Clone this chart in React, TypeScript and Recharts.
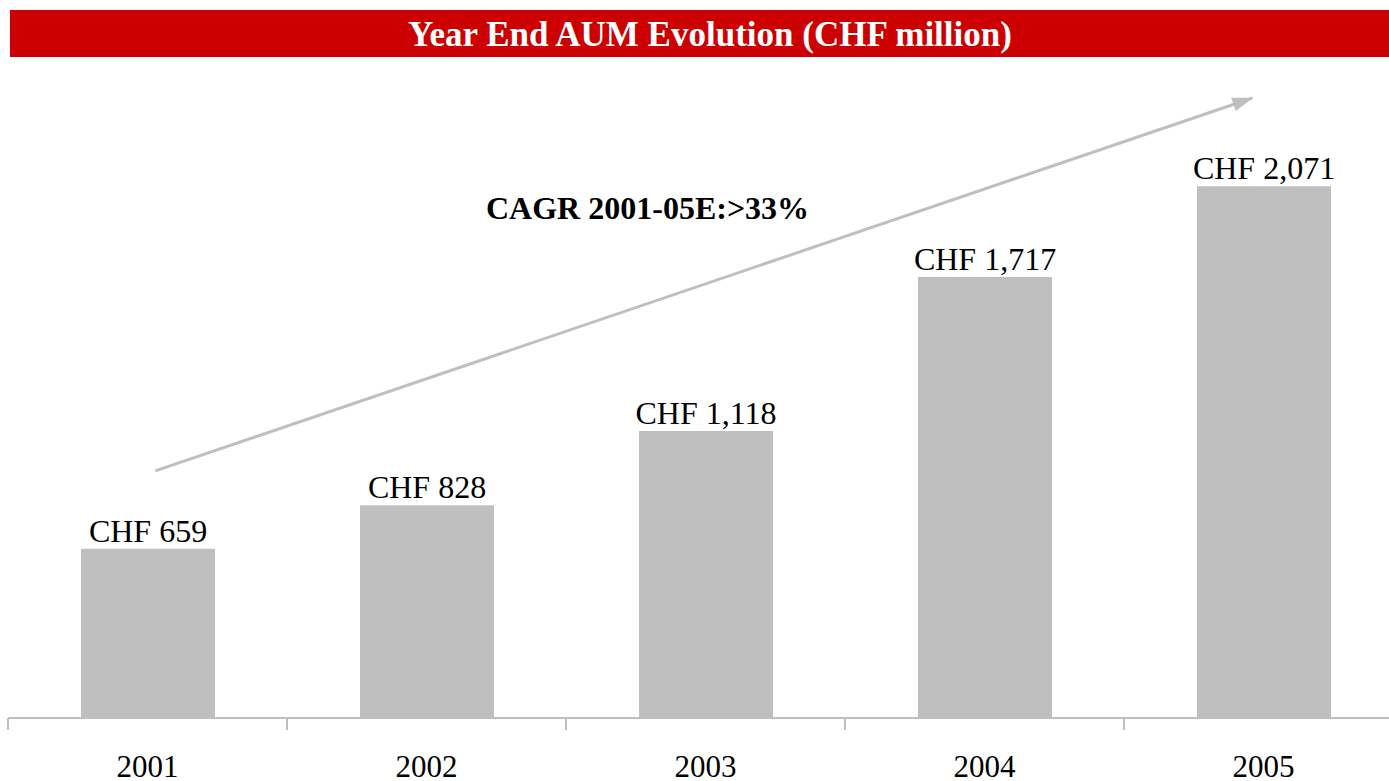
import React from 'react';
import { BarChart, Bar, XAxis, YAxis, LabelList, ReferenceLine } from 'recharts';

const YEARS = ['2001', '2002', '2003', '2004', '2005'];
const AUM = [659, 828, 1118, 1717, 2071];
// trend arrow, from the 2001 slot to the 2005 slot (CHF million)
const ARROW = [
  { x: '2001', y: 952 },
  { x: '2005', y: 2429 },
];

const FONT = '"Liberation Serif", "Times New Roman", serif';
const GREY = '#BFBFBF';

const data = YEARS.map((year, i) => ({ year, aum: AUM[i] }));

const AxisTick = (props: any) => {
  const { x, y, payload, index } = props;
  const half = payload.offset || 0;
  return (
    <g>
      <line x1={x - half} y1={y} x2={x - half} y2={y + 12} stroke={GREY} strokeWidth={2} />
      {index === YEARS.length - 1 && (
        <line x1={x + half} y1={y} x2={x + half} y2={y + 12} stroke={GREY} strokeWidth={2} />
      )}
      <text x={x} y={y + 59} textAnchor="middle" fontFamily={FONT} fontSize={31} fill="#000">
        {payload.value}
      </text>
    </g>
  );
};

const App: React.FC = () => {
  return (
    <div
      style={{
        position: 'absolute',
        left: 0,
        top: 0,
        width: 1389,
        height: 781,
        overflow: 'hidden',
        background: '#fff',
      }}
    >
      {/* Title bar */}
      <div
        style={{
          position: 'absolute',
          left: 10,
          top: 10,
          width: 1400,
          height: 47,
          background: '#CC0000',
          color: '#fff',
          fontFamily: FONT,
          fontWeight: 'bold',
          fontSize: 35,
          lineHeight: '50px',
          textAlign: 'center',
        }}
      >
        Year End AUM Evolution (CHF million)
      </div>

      <BarChart
        width={1420}
        height={781}
        data={data}
        margin={{ top: 76, right: 17, bottom: 0, left: 8 }}
      >
        <XAxis
          dataKey="year"
          height={63}
          interval={0}
          axisLine={{ stroke: GREY, strokeWidth: 2 }}
          tickLine={false}
          tickSize={0}
          tickMargin={0}
          tick={<AxisTick />}
        />
        <YAxis hide domain={[0, 2500]} />
        <Bar dataKey="aum" fill={GREY} barSize={134} isAnimationActive={false}>
          <LabelList
            dataKey="aum"
            position="top"
            offset={7}
            formatter={(v: any) => `CHF ${Number(v).toLocaleString('en-US')}`}
            style={{ fontFamily: FONT, fontSize: 32, fill: '#000' }}
          />
        </Bar>
        <ReferenceLine
          segment={ARROW}
          ifOverflow="visible"
          stroke={GREY}
          strokeWidth={3}
          shape={(p: any) => {
            // arrow starts a little right of the 2001 centre and stops short of 2005
            const dx = p.x2 - p.x1;
            const dy = p.y2 - p.y1;
            const t0 = 0.007;
            const t1 = 0.99;
            return (
              <line
                x1={p.x1 + dx * t0}
                y1={p.y1 + dy * t0}
                x2={p.x1 + dx * t1}
                y2={p.y1 + dy * t1}
                stroke={GREY}
                strokeWidth={3}
                markerEnd="url(#trendArrow)"
              />
            );
          }}
        />
      </BarChart>

      {/* Annotation + arrow head marker */}
      <svg
        width={1389}
        height={781}
        style={{ position: 'absolute', left: 0, top: 0, pointerEvents: 'none' }}
      >
        <defs>
          <marker
            id="trendArrow"
            markerUnits="userSpaceOnUse"
            markerWidth={22}
            markerHeight={16}
            refX={20}
            refY={8}
            orient="auto"
          >
            <path d="M0,1 L21,8 L0,15 z" fill={GREY} />
          </marker>
        </defs>
        <text x={486} y={219} fontFamily={FONT} fontWeight="bold" fontSize={32} fill="#000">
          CAGR 2001-05E:&gt;33%
        </text>
      </svg>
    </div>
  );
};

export default App;
